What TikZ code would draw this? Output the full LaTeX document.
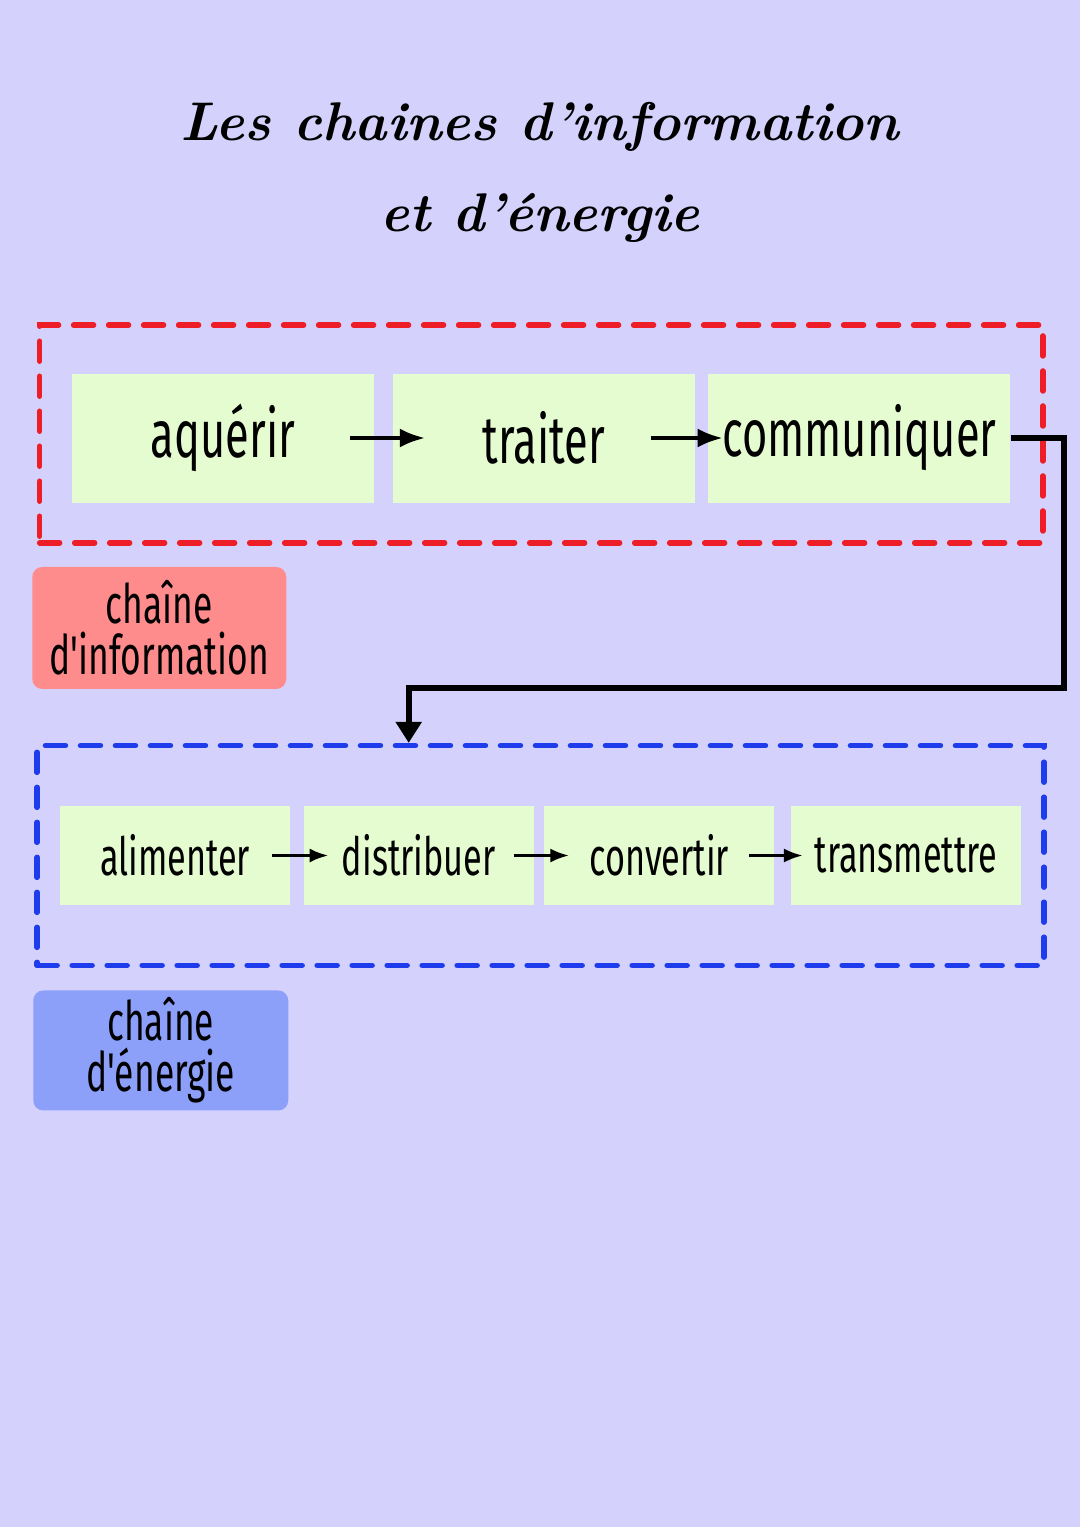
\documentclass[tikz,border=0pt]{standalone}
\usepackage{fontspec}
\usepackage{tikz}
\usetikzlibrary{positioning, arrows.meta, calc, fit}

\newfontfamily\handfont{Fira Sans}[FakeStretch=0.65]

\definecolor{pagebg}{RGB}{212,210,252}
\definecolor{stepgreen}{RGB}{229,251,208}
\definecolor{infored}{RGB}{238,30,40}
\definecolor{enerblue}{RGB}{30,60,235}
\definecolor{infosalmon}{RGB}{255,140,140}
\definecolor{enerlabel}{RGB}{140,160,250}

\begin{document}
\begin{tikzpicture}[>=Latex,
  topbox/.style={fill=stepgreen,minimum width=6.04cm,minimum height=2.58cm,inner sep=0pt,font=\handfont\fontsize{38}{40}\selectfont},
  lowbox/.style={fill=stepgreen,minimum width=4.6cm,minimum height=1.98cm,inner sep=0pt,font=\handfont\fontsize{30}{32}\selectfont},
  chain/.style={line width=0.11cm,dash pattern=on 0.4cm off 0.3cm,line cap=round,inner sep=0pt},
  tag/.style={rounded corners=0.2cm,inner sep=0pt,align=center,font=\handfont\fontsize{31}{29}\selectfont},
  flow/.style={->,line width=0.09cm},
  thin flow/.style={->,line width=0.06cm},
  link/.style={-{Triangle[length=0.42cm,width=0.5cm]},line width=0.12cm}]
  % page
  \fill[pagebg] (0,0) rectangle (21.6,-30.54);
  \useasboundingbox (0,0) rectangle (21.6,-30.54);
  \node[font=\bfseries\itshape\fontsize{31}{52}\selectfont,align=center] (title) at (10.8,-3.45)
    {Les chaines d'information\\et d'énergie};

  % chaine d'information
  \node[topbox] (aq) at (4.46,-8.76) {aquérir};
  \node[topbox,right=0.36cm of aq] (tr) {traiter};
  \node[topbox,right=0.26cm of tr] (com) {communiquer};
  \node[chain,draw=infored,fit=(aq)(com),inner xsep=0.64cm,inner ysep=0.88cm,yshift=0.08cm] (infochain) {};
  \node[tag,fill=infosalmon,minimum width=5.08cm,minimum height=2.44cm,anchor=north west,
    below right=0.42cm and -0.1cm of infochain.south west] (infotag) {chaîne\\d'information};
  \draw[flow,shorten <=-0.48cm,shorten >=-0.66cm] (aq) -- (tr);
  \draw[flow,shorten <=-0.88cm,shorten >=-0.3cm] (tr) -- (com);

  % chaine d'energie
  \node[lowbox] (alim) at (3.5,-17.11) {alimenter};
  \node[lowbox,right=0.26cm of alim] (dist) {distribuer};
  \node[lowbox,right=0.2cm of dist] (conv) {convertir};
  \node[lowbox,right=0.32cm of conv] (trans) {transmettre};
  \node[chain,draw=enerblue,fit=(alim)(trans),inner xsep=0.45cm,inner ysep=1.2cm] (enerchain) {};
  \node[tag,fill=enerlabel,minimum width=5.1cm,minimum height=2.4cm,anchor=north west,
    below right=0.44cm and -0.03cm of enerchain.south west] (enertag) {chaîne\\d'énergie};
  \draw[thin flow,shorten <=-0.36cm,shorten >=-0.5cm] (alim) -- (dist);
  \draw[thin flow,shorten <=-0.4cm,shorten >=-0.5cm] (dist) -- (conv);
  \draw[thin flow,shorten <=-0.52cm,shorten >=-0.24cm] (conv) -- (trans);

  % lien entre les chaines
  \draw[link] (com.east) -| ++(1.06,-5) -| ([xshift=-0.2cm]dist.north |- enerchain.north);
\end{tikzpicture}
\end{document}
